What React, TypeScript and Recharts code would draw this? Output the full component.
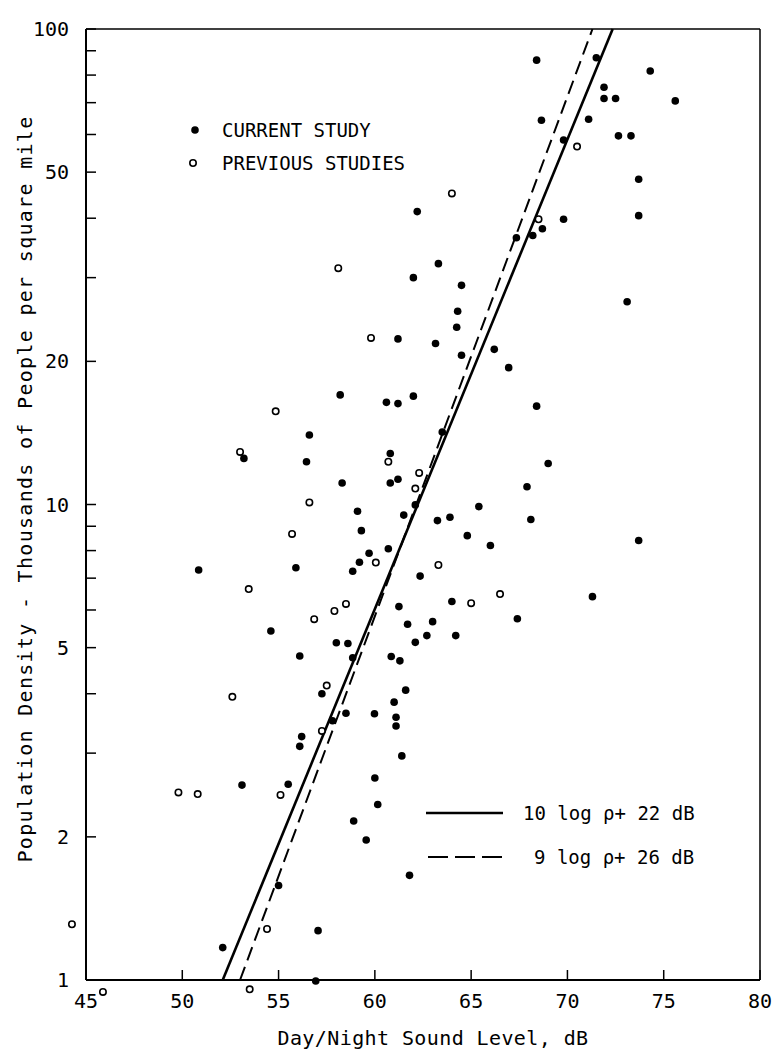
import React from 'react';
import { ScatterChart, Scatter, XAxis, YAxis, ReferenceLine, ReferenceDot } from 'recharts';

const xTicks = [45, 50, 55, 60, 65, 70, 75, 80];
const yTicks = [1, 2, 3, 4, 5, 6, 7, 8, 9, 10, 20, 30, 40, 50, 60, 70, 80, 90, 100];
const yLabeled = [1, 2, 5, 10, 20, 50, 100];

const xTitle = 'Day/Night Sound Level, dB';
const yTitle = 'Population Density - Thousands of People per square mile';
const currentLabel = 'CURRENT STUDY';
const previousLabel = 'PREVIOUS STUDIES';
const solidLabel = '10 log \u03c1+ 22 dB';
const dashedLabel = '9 log \u03c1+ 26 dB';

// Current study (filled dots): [dB, thousands per sq mile]
const currentStudy: [number, number][] = [
  [68.4, 86], [71.5, 87], [74.3, 81.6], [71.9, 75.4], [71.9, 71.4], [72.5, 71.4], [75.6, 70.6],
  [68.65, 64.3], [71.1, 64.6], [69.8, 58.4], [72.65, 59.6], [73.3, 59.6], [73.7, 48.3],
  [62.2, 41.3], [73.7, 40.5], [69.8, 39.8], [67.35, 36.4], [68.2, 36.8], [68.7, 38.0],
  [63.3, 32.1], [62.0, 30.0], [64.5, 28.9], [73.1, 26.7], [64.3, 25.5], [64.25, 23.6],
  [61.2, 22.3], [63.15, 21.8], [64.5, 20.6], [66.2, 21.2], [66.95, 19.4], [60.6, 16.4],
  [61.2, 16.3], [62.0, 16.9], [68.4, 16.1], [63.5, 14.2], [60.8, 12.8], [69.0, 12.2],
  [61.2, 11.3], [60.8, 11.1], [67.9, 10.9], [62.1, 9.98], [65.4, 9.9], [61.5, 9.5],
  [63.25, 9.25], [63.9, 9.4], [68.1, 9.3], [64.8, 8.6], [66.0, 8.2], [73.7, 8.4],
  [60.7, 8.07], [62.35, 7.07], [71.3, 6.4], [64.0, 6.25], [61.25, 6.1], [67.4, 5.75],
  [61.7, 5.6], [63.0, 5.67], [62.7, 5.3], [64.2, 5.3], [62.1, 5.13], [60.85, 4.79],
  [61.3, 4.69], [58.2, 17.0], [56.6, 14.0], [53.2, 12.5], [56.45, 12.3], [58.3, 11.1],
  [59.1, 9.68], [59.3, 8.81], [59.7, 7.9], [59.2, 7.56], [58.85, 7.24], [50.85, 7.28],
  [55.9, 7.36], [54.6, 5.42], [58.0, 5.12], [58.6, 5.1], [56.1, 4.8], [58.85, 4.76],
  [57.25, 4.0], [58.5, 3.64], [59.98, 3.63], [57.8, 3.51], [56.2, 3.25], [56.1, 3.1],
  [53.1, 2.57], [55.5, 2.58], [60.0, 2.66], [60.15, 2.34], [58.9, 2.16], [59.55, 1.97],
  [55.0, 1.58], [57.05, 1.27], [52.1, 1.17], [61.6, 4.07], [61.0, 3.84], [61.1, 3.57],
  [61.1, 3.42], [61.4, 2.96], [61.8, 1.66],
];
// Points plotted just outside the frame
const currentOutside: [number, number][] = [[56.93, 0.995]];

// Previous studies (open circles)
const previousStudies: [number, number][] = [
  [70.5, 56.6], [64.0, 45.1], [68.5, 39.8], [58.1, 31.4], [59.8, 22.4], [54.85, 15.7],
  [53.0, 12.9], [60.7, 12.3], [62.3, 11.65], [62.1, 10.8], [56.6, 10.1], [55.7, 8.67],
  [60.05, 7.55], [63.3, 7.46], [53.45, 6.64], [66.5, 6.48], [65.0, 6.2], [58.5, 6.18],
  [57.9, 5.97], [56.85, 5.74], [52.6, 3.94], [57.5, 4.16], [57.25, 3.34], [49.8, 2.48],
  [50.8, 2.46], [55.1, 2.45], [54.4, 1.28],
];
const previousOutside: [number, number][] = [[44.27, 1.31], [45.88, 0.944], [53.5, 0.956]];

// Fitted lines (end points read at the frame edges)
const solidFit: [number, number][] = [[52.1, 1], [72.35, 100]];
const dashedFit: [number, number][] = [[53.0, 1], [71.3, 100]];

const toObj = (arr: [number, number][]) => arr.map(([x, y]) => ({ x, y }));

const FONT = '"DejaVu Sans Mono", monospace';
const W = 773;
const H = 1050;

const FilledDot = (p: any) => <circle cx={p.cx} cy={p.cy} r={3.8} fill="#000" />;
const OpenDot = (p: any) => (
  <circle cx={p.cx} cy={p.cy} r={3.2} fill="#fff" stroke="#000" strokeWidth={1.6} />
);

export default function App() {
  return (
    <div style={{ position: 'absolute', left: 0, top: 0, width: W, height: H, background: '#fff' }}>
      <ScatterChart width={W} height={H} margin={{ top: 29, right: 13, bottom: 0, left: 0 }}>
        <XAxis
          dataKey="x"
          type="number"
          domain={[45, 80]}
          ticks={xTicks}
          interval={0}
          allowDataOverflow
          height={70}
          tickSize={-10}
          tickMargin={24}
          axisLine={{ stroke: '#000', strokeWidth: 2 }}
          tickLine={{ stroke: '#000', strokeWidth: 1.5 }}
          tick={{ fill: '#000', fontSize: 20, fontFamily: FONT }}
        />
        <YAxis
          dataKey="y"
          type="number"
          scale="log"
          domain={[1, 100]}
          ticks={yTicks}
          interval={0}
          allowDataOverflow
          width={86}
          tickSize={-10}
          tickMargin={27}
          tickFormatter={(v: number) => (yLabeled.includes(v) ? String(v) : '')}
          axisLine={{ stroke: '#000', strokeWidth: 2 }}
          tickLine={{ stroke: '#000', strokeWidth: 1.5 }}
          tick={{ fill: '#000', fontSize: 20, fontFamily: FONT }}
        />
        <ReferenceLine y={100} stroke="#000" strokeWidth={1.5} ifOverflow="visible" />
        <ReferenceLine x={80} stroke="#000" strokeWidth={1.5} ifOverflow="visible" />
        <ReferenceLine
          segment={toObj(solidFit)}
          stroke="#000"
          strokeWidth={2.6}
          ifOverflow="visible"
        />
        <ReferenceLine
          segment={toObj(dashedFit)}
          stroke="#000"
          strokeWidth={2}
          strokeDasharray="14 7"
          ifOverflow="visible"
        />
        <Scatter data={toObj(previousStudies)} shape={OpenDot} isAnimationActive={false} />
        <Scatter data={toObj(currentStudy)} shape={FilledDot} isAnimationActive={false} />
        {previousOutside.map(([x, y], i) => (
          <ReferenceDot key={'po' + i} x={x} y={y} r={3.2} fill="#fff" stroke="#000" strokeWidth={1.6} ifOverflow="visible" />
        ))}
        {currentOutside.map(([x, y], i) => (
          <ReferenceDot key={'co' + i} x={x} y={y} r={3.8} fill="#000" stroke="none" ifOverflow="visible" />
        ))}
      </ScatterChart>
      <svg
        width={W}
        height={H}
        style={{ position: 'absolute', left: 0, top: 0, pointerEvents: 'none' }}
        fontFamily={FONT}
      >
        <text x={433} y={1045} textAnchor="middle" fontSize={20} letterSpacing={0.4} fill="#000">{xTitle}</text>
        <text
          x={25}
          y={489}
          textAnchor="middle"
          dominantBaseline="central"
          fontSize={20}
          letterSpacing={1.3}
          fill="#000"
          transform="rotate(-90, 25, 489)"
        >
          {yTitle}
        </text>
        <circle cx={195} cy={130} r={3.8} fill="#000" />
        <text x={222} y={130} dominantBaseline="central" fontSize={19} fill="#000">{currentLabel}</text>
        <circle cx={193} cy={163} r={3.2} fill="#fff" stroke="#000" strokeWidth={1.6} />
        <text x={222} y={163} dominantBaseline="central" fontSize={19} fill="#000">{previousLabel}</text>
        <line x1={426} y1={813} x2={503} y2={813} stroke="#000" strokeWidth={2.4} />
        <text x={523} y={813} dominantBaseline="central" fontSize={19} fill="#000">{solidLabel}</text>
        <line x1={428} y1={857} x2={503} y2={857} stroke="#000" strokeWidth={2} strokeDasharray="20 7" />
        <text x={534} y={857} dominantBaseline="central" fontSize={19} fill="#000">{dashedLabel}</text>
      </svg>
    </div>
  );
}
